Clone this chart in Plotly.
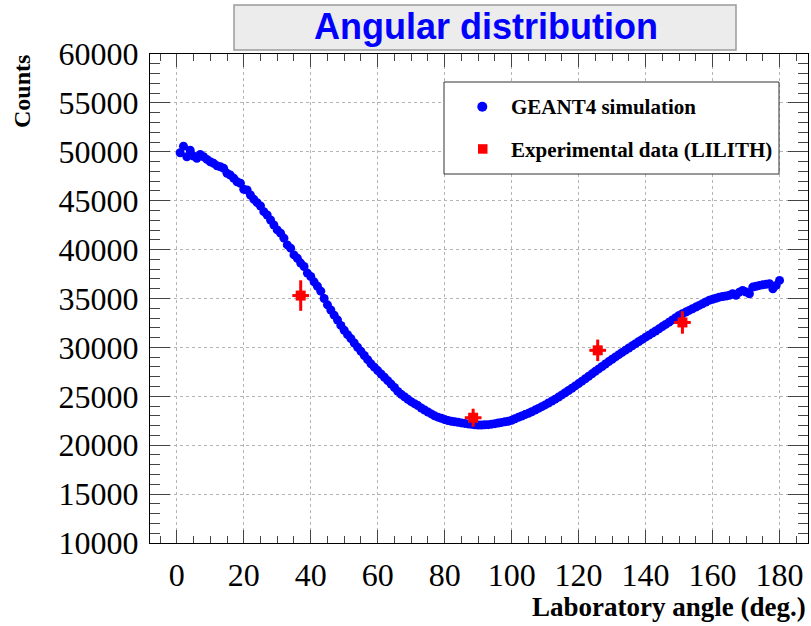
import plotly.graph_objects as go

# ---------------- data ----------------
sim_angle = list(range(1, 181))
sim_counts = [
    49900, 50580, 49490, 50170, 49560, 49330, 49730, 49490, 49220, 48980,
    48820, 48570, 48470, 48310, 47800, 47620, 47290, 46940, 46780, 46160,
    46090, 45580, 45140, 44800, 44460, 43880, 43540, 43030, 42520, 42010,
    41680, 41170, 40480, 40150, 39460, 39120, 38620, 38270, 37600, 37250,
    36700, 36250, 35750, 35000, 34350, 33820, 33300, 32800, 32250, 31750,
    31300, 30900, 30450, 30020, 29600, 29170, 28750, 28320, 27980, 27630,
    27280, 26950, 26600, 26250, 25900, 25500, 25200, 24950, 24700, 24450,
    24250, 24050, 23800, 23600, 23400, 23200, 23000, 22870, 22750, 22630,
    22530, 22450, 22400, 22340, 22280, 22230, 22180, 22130, 22090, 22070,
    22060, 22080, 22100, 22150, 22200, 22270, 22330, 22390, 22440, 22550,
    22700, 22850, 22990, 23130, 23260, 23420, 23590, 23760, 23940, 24120,
    24310, 24510, 24710, 24920, 25140, 25360, 25590, 25820, 26060, 26300,
    26550, 26800, 27050, 27300, 27550, 27800, 28050, 28300, 28550, 28790,
    29030, 29260, 29490, 29720, 29940, 30160, 30380, 30600, 30820, 31050,
    31250, 31460, 31680, 31900, 32130, 32350, 32580, 32810, 33040, 33270,
    33440, 33610, 33780, 33950, 34120, 34290, 34460, 34640, 34810, 34920,
    35030, 35140, 35200, 35260, 35320, 35490, 35320, 35650, 35830, 35660,
    35490, 36170, 36250, 36340, 36400, 36450, 36520, 36000, 36340, 36850,
]
exp_angle = [37.0, 88.5, 125.7, 151.0]
exp_counts = [35300, 22810, 29700, 32550]
exp_counts_err = [1560, 920, 1100, 1150]
exp_angle_err = [2.5, 2.5, 2.5, 2.5]

x_ticks = list(range(0, 181, 20))
y_ticks = list(range(10000, 60001, 5000))
y_tick_labels = [str(v) for v in y_ticks]

title_text = "Angular distribution"
x_title = "Laboratory angle (deg.)"
y_title = "Counts"
legend_labels = ["GEANT4 simulation", "Experimental data (LILITH)"]

# ---------------- geometry ----------------
W, H = 811, 626
L, R, T, B = 150, 3, 54, 83
PW, PH = W - L - R, H - T - B


def px(x):
    return (x - L) / PW


def py(y):
    return (H - B - y) / PH


fig = go.Figure()

fig.add_trace(go.Scatter(
    x=sim_angle, y=sim_counts, mode="markers",
    marker=dict(symbol="circle", size=9, color="#0000ff", line=dict(width=0)),
    showlegend=False, name=legend_labels[0],
))

fig.add_trace(go.Scatter(
    x=exp_angle, y=exp_counts, mode="markers",
    marker=dict(symbol="square", size=10, color="#ff0000", line=dict(width=0)),
    error_y=dict(type="data", array=exp_counts_err, color="#ff0000", thickness=3, width=0),
    error_x=dict(type="data", array=exp_angle_err, color="#ff0000", thickness=3, width=0),
    showlegend=False, name=legend_labels[1],
))

axis_common = dict(
    showline=True, linecolor="#000000", linewidth=1, mirror="ticks",
    ticks="inside", tickcolor="#444444", tickwidth=1,
    showgrid=True, gridcolor="#b4b4b4", griddash="dot", gridwidth=1,
    zeroline=False,
    tickfont=dict(family="Liberation Serif", size=32, color="#000000"),
)

fig.update_xaxes(
    range=[-8, 188.5], tickvals=x_ticks, ticktext=[str(v) for v in x_ticks], ticklen=13,
    minor=dict(dtick=5, tick0=0, ticklen=7, ticks="inside", tickcolor="#444444", showgrid=False),
    ticklabelstandoff=4,
    **axis_common,
)
fig.update_yaxes(
    range=[10000, 60000], tickvals=y_ticks, ticktext=y_tick_labels, ticklen=20,
    minor=dict(dtick=1000, tick0=10000, ticklen=10, ticks="inside", tickcolor="#444444", showgrid=False),
    ticklabelstandoff=4,
    **axis_common,
)

shapes = [
    # title box
    dict(type="rect", xref="paper", yref="paper",
         x0=px(234), x1=px(736), y0=py(50), y1=py(5),
         fillcolor="#ececec", line=dict(color="#9a9a9a", width=1.5), layer="above"),
    # legend box
    dict(type="rect", xref="paper", yref="paper",
         x0=px(444), x1=px(779), y0=py(174), y1=py(82),
         fillcolor="#ffffff", line=dict(color="#333333", width=1), layer="above"),
    # legend markers
    dict(type="circle", xref="paper", yref="paper",
         x0=px(477.3), x1=px(487.3), y0=py(111.7), y1=py(101.7),
         fillcolor="#0000ff", line=dict(width=0), layer="above"),
    dict(type="rect", xref="paper", yref="paper",
         x0=px(478), x1=px(487.5), y0=py(153.7), y1=py(144.2),
         fillcolor="#ff0000", line=dict(width=0), layer="above"),
]

annotations = [
    dict(text="<b>%s</b>" % title_text, xref="paper", yref="paper",
         x=px(486), y=py(26), xanchor="center", yanchor="middle", showarrow=False,
         font=dict(family="Liberation Sans", size=36, color="#0000ff")),
    dict(text="<b>%s</b>" % y_title, xref="paper", yref="paper",
         x=px(22), y=py(92), xanchor="center", yanchor="middle", showarrow=False,
         textangle=-90, font=dict(family="Liberation Serif", size=24, color="#000000")),
    dict(text="<b>%s</b>" % x_title, xref="paper", yref="paper",
         x=px(808), y=py(607), xanchor="right", yanchor="middle", showarrow=False,
         font=dict(family="Liberation Serif", size=27, color="#000000")),
    dict(text="<b>%s</b>" % legend_labels[0], xref="paper", yref="paper",
         x=px(509), y=py(107), xanchor="left", yanchor="middle", showarrow=False,
         font=dict(family="Liberation Serif", size=21, color="#000000")),
    dict(text="<b>%s</b>" % legend_labels[1], xref="paper", yref="paper",
         x=px(509), y=py(150), xanchor="left", yanchor="middle", showarrow=False,
         font=dict(family="Liberation Serif", size=21, color="#000000")),
]

fig.update_layout(
    width=W, height=H,
    margin=dict(l=L, r=R, t=T, b=B, pad=0),
    paper_bgcolor="#ffffff", plot_bgcolor="#ffffff",
    showlegend=False,
    shapes=shapes, annotations=annotations,
)

fig.write_html("out.html")
